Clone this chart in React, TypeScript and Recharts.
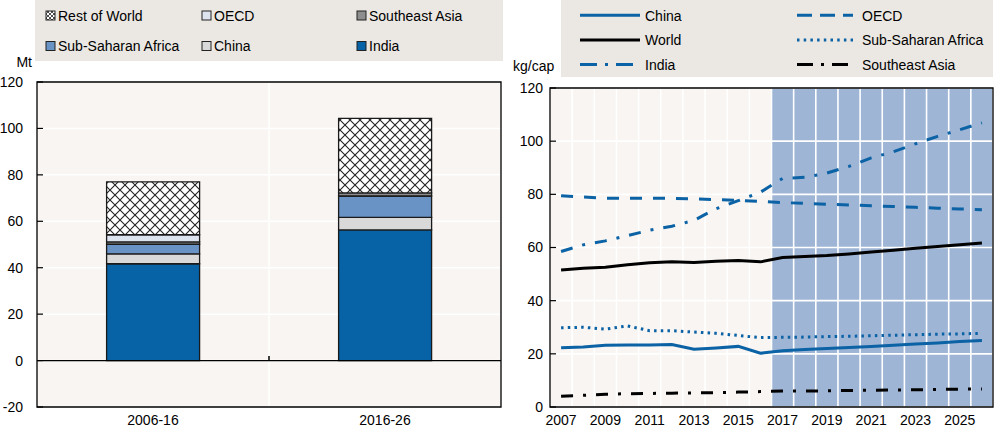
import React from 'react';
import {
  BarChart,
  Bar,
  XAxis,
  YAxis,
  CartesianGrid,
  ReferenceArea,
  ReferenceLine,
  LineChart,
  Line,
} from 'recharts';

// ---------- Left panel data (Mt) ----------
const periods = ['2006-16', '2016-26'];
const indiaMt = [41.7, 56.3];
const chinaMt = [4.3, 5.4];
const ssaMt = [4.1, 9.2];
const seaMt = [1.0, 1.3];
const oecdMt = [3.1, 0];
const rowMt = [22.8, 32.1];
const mtTicks = [-20, 0, 20, 40, 60, 80, 100, 120];

// ---------- Right panel data (kg/cap) ----------
const years = [2007, 2008, 2009, 2010, 2011, 2012, 2013, 2014, 2015, 2016, 2017, 2018, 2019, 2020, 2021, 2022, 2023, 2024, 2025, 2026];
const chinaKg = [22.3, 22.6, 23.2, 23.3, 23.3, 23.5, 21.7, 22.2, 22.8, 20.2, 21.2, 21.6, 22.0, 22.4, 22.8, 23.2, 23.7, 24.1, 24.6, 25.0];
const worldKg = [51.5, 52.2, 52.6, 53.5, 54.3, 54.6, 54.4, 54.8, 55.1, 54.6, 56.2, 56.6, 57.0, 57.6, 58.3, 59.0, 59.7, 60.4, 61.0, 61.7];
const oecdKg = [79.5, 79.0, 78.5, 78.5, 78.5, 78.5, 78.3, 78.0, 77.7, 77.3, 76.9, 76.6, 76.3, 76.0, 75.7, 75.4, 75.1, 74.8, 74.5, 74.2];
const indiaKg = [58.5, 61.0, 62.5, 64.5, 66.5, 68.0, 70.2, 74.6, 77.6, 80.8, 86.0, 86.4, 88.0, 90.5, 93.7, 96.0, 99.0, 101.8, 104.3, 106.9];
const ssaKg = [29.8, 30.0, 29.3, 30.5, 28.7, 28.7, 28.2, 27.7, 26.9, 26.1, 26.2, 26.3, 26.5, 26.6, 26.8, 27.0, 27.2, 27.4, 27.5, 27.7];
const seaKg = [4.0, 4.4, 4.8, 5.0, 5.1, 5.2, 5.3, 5.4, 5.6, 5.8, 6.0, 6.0, 6.1, 6.2, 6.3, 6.4, 6.5, 6.6, 6.7, 6.8];
const kgTicks = [0, 20, 40, 60, 80, 100, 120];
const yearLabels = [2007, 2009, 2011, 2013, 2015, 2017, 2019, 2021, 2023, 2025];
const yearBoundaries = [2006.5, 2007.5, 2008.5, 2009.5, 2010.5, 2011.5, 2012.5, 2013.5, 2014.5, 2015.5, 2016.5, 2017.5, 2018.5, 2019.5, 2020.5, 2021.5, 2022.5, 2023.5, 2024.5, 2025.5, 2026.5];
const projectionStart = 2016.5;

// legend labels
const leftLegendLabels = [
  ['Rest of World', 'OECD', 'Southeast Asia'],
  ['Sub-Saharan Africa', 'China', 'India'],
];
const rightLegendLabels = [
  ['China', 'OECD'],
  ['World', 'Sub-Saharan Africa'],
  ['India', 'Southeast Asia'],
];

// ---------- styles ----------
const CREAM = '#f8f5f2';
const LEGEND_BG = '#ebe8e3';
const SHADE = '#9fb5d6';
const BLUE = '#0b62a5';
const BLACK = '#000';
const FONT = '"Liberation Sans", Arial, Helvetica, sans-serif';

const barColors: Record<string, string> = {
  'Rest of World': 'url(#xhatch-leg)',
  OECD: '#dde3ef',
  'Southeast Asia': '#8e8e8e',
  'Sub-Saharan Africa': '#6a93c5',
  China: '#d9d9d9',
  India: '#0763a6',
};

const lineStyles: Record<string, { color: string; dash?: string; legendDash?: string }> = {
  China: { color: BLUE },
  World: { color: BLACK },
  India: { color: BLUE, dash: '12 10 3 10', legendDash: '17 8 3 8' },
  OECD: { color: BLUE, dash: '12 11', legendDash: '15 8' },
  'Sub-Saharan Africa': { color: BLUE, dash: '2.5 4.2', legendDash: '2.5 4.2' },
  'Southeast Asia': { color: BLACK, dash: '12 10 3 10', legendDash: '16 8 3 8' },
};

const barData = periods.map((p, i) => ({
  period: p,
  india: indiaMt[i],
  china: chinaMt[i],
  ssa: ssaMt[i],
  sea: seaMt[i],
  oecd: oecdMt[i],
  row: rowMt[i],
}));

const lineData = years.map((y, i) => ({
  year: y,
  china: chinaKg[i],
  world: worldKg[i],
  oecd: oecdKg[i],
  india: indiaKg[i],
  ssa: ssaKg[i],
  sea: seaKg[i],
}));

// stripe fill per year band: cream for history, blue for projections
const stripeFills = yearBoundaries.slice(0, -1).map((b) => (b >= projectionStart ? SHADE : CREAM));

// inward tick on the bottom axis (no label)
const BoundaryTick = (props: any) => {
  const { x, y } = props;
  return <line x1={x} x2={x} y1={y} y2={y - 6} stroke="#000" strokeWidth={1.2} />;
};

// y-axis tick with inward tick mark
const makeYTick = (gap: number) => (props: any) => {
  const { x, y, payload } = props;
  return (
    <g>
      <line x1={x} x2={x + 6} y1={y} y2={y} stroke="#000" strokeWidth={1.2} />
      <text x={x - gap} y={y} dy="0.355em" textAnchor="end" fontSize={14} fill="#000" fontFamily={FONT}>
        {payload.value}
      </text>
    </g>
  );
};
const LeftYTick = makeYTick(14);
const RightYTick = makeYTick(7);

const tickStyle = { fill: '#000', fontSize: 14, fontFamily: FONT };

function LeftLegend() {
  const colX = [46, 202, 357];
  const rowY = [15.5, 46];
  return (
    <svg width={1000} height={80} style={{ position: 'absolute', left: 0, top: 0, overflow: 'visible' }}>
      <defs>
        <pattern id="xhatch-leg" width={4} height={4} patternUnits="userSpaceOnUse">
          <rect width={4} height={4} fill="#fff" />
          <path d="M0,0 L4,4 M4,0 L0,4" stroke="#222" strokeWidth={0.8} />
        </pattern>
      </defs>
      <rect x={35} y={0} width={468} height={61} fill={LEGEND_BG} />
      {leftLegendLabels.map((row, r) =>
        row.map((label, c) => (
          <g key={label}>
            <rect x={colX[c]} y={rowY[r] - 4.5} width={9} height={9} fill={barColors[label]} stroke="#222" strokeWidth={1} />
            <text x={colX[c] + 12} y={rowY[r] + 5.2} fontSize={14} fill="#000" fontFamily={FONT}>
              {label}
            </text>
          </g>
        ))
      )}
      <text x={32} y={66.5} textAnchor="end" fontSize={14} fill="#000" fontFamily={FONT}>
        Mt
      </text>
    </svg>
  );
}

function RightLegend() {
  const lineX = [[580, 640], [797, 853]];
  const textX = [645, 862];
  const rowY = [15.3, 40, 64.5];
  return (
    <svg width={1000} height={80} style={{ position: 'absolute', left: 0, top: 0, overflow: 'visible' }}>
      <rect x={561} y={0} width={432} height={77} fill={LEGEND_BG} />
      {rightLegendLabels.map((row, r) =>
        row.map((label, c) => {
          const st = lineStyles[label];
          return (
            <g key={label}>
              <line
                x1={lineX[c][0]}
                x2={lineX[c][1]}
                y1={rowY[r]}
                y2={rowY[r]}
                stroke={st.color}
                strokeWidth={3}
                strokeDasharray={st.legendDash}
              />
              <text x={textX[c]} y={rowY[r] + 5.3} fontSize={14} fill="#000" fontFamily={FONT}>
                {label}
              </text>
            </g>
          );
        })
      )}
      <text x={513} y={71} fontSize={14} fill="#000" fontFamily={FONT}>
        kg/cap
      </text>
    </svg>
  );
}

export default function App() {
  return (
    <div style={{ position: 'absolute', left: 0, top: 0, width: 1000, height: 427, background: '#fff', fontFamily: FONT }}>
      <div style={{ position: 'absolute', left: 0, top: 0 }}>
        <BarChart width={505} height={427} data={barData} margin={{ top: 82, right: 4, bottom: 0, left: 0 }} barCategoryGap="30%">
          <defs>
            <pattern id="xhatch" width={10} height={10} patternUnits="userSpaceOnUse">
              <rect width={10} height={10} fill="#fff" />
              <path d="M0,0 L10,10 M10,0 L0,10" stroke="#222" strokeWidth={1.1} />
            </pattern>
          </defs>
          <CartesianGrid
            stroke="#fff"
            strokeWidth={1.5}
            fill={CREAM}
            fillOpacity={1}
            verticalCoordinatesGenerator={({ offset }: any) => [offset.left + offset.width / 2]}
          />
          <XAxis dataKey="period" axisLine={false} tickLine={false} tickSize={0} tickMargin={8} height={20} tick={tickStyle} interval={0} />
          <YAxis
            type="number"
            domain={[-20, 120]}
            ticks={mtTicks}
            width={37}
            axisLine={false}
            tickLine={false}
            tickSize={0}
            tickMargin={0}
            tick={<LeftYTick />}
            interval={0}
            allowDataOverflow
          />
          <ReferenceLine y={0} stroke="#000" strokeWidth={1.3} />
          <Bar dataKey="india" stackId="a" fill={barColors.India} stroke="#1a1a1a" strokeWidth={1.3} isAnimationActive={false} />
          <Bar dataKey="china" stackId="a" fill={barColors.China} stroke="#1a1a1a" strokeWidth={1.3} isAnimationActive={false} />
          <Bar dataKey="ssa" stackId="a" fill={barColors['Sub-Saharan Africa']} stroke="#1a1a1a" strokeWidth={1.3} isAnimationActive={false} />
          <Bar dataKey="sea" stackId="a" fill={barColors['Southeast Asia']} stroke="#1a1a1a" strokeWidth={1.3} isAnimationActive={false} />
          <Bar dataKey="oecd" stackId="a" fill={barColors.OECD} stroke="#1a1a1a" strokeWidth={1.3} isAnimationActive={false} />
          <Bar dataKey="row" stackId="a" fill="url(#xhatch)" stroke="#1a1a1a" strokeWidth={1.3} isAnimationActive={false} />
          <ReferenceLine
            segment={[{ x: periods[1], y: 0 }, { x: periods[1], y: 2 }]}
            position="start"
            stroke="#000"
            strokeWidth={1.5}
          />
          <ReferenceArea y1={-20} y2={120} fill="none" stroke="#000" strokeWidth={1.3} />
        </BarChart>
      </div>
      <div style={{ position: 'absolute', left: 500, top: 0 }}>
        <LineChart width={500} height={427} data={lineData} margin={{ top: 88, right: 7, bottom: 0, left: 0 }}>
          <CartesianGrid stroke="#fff" strokeWidth={1.6} fill={CREAM} fillOpacity={1} verticalFill={stripeFills} />
          <XAxis
            dataKey="year"
            type="number"
            domain={[2006.5, 2026.5]}
            ticks={yearBoundaries}
            tick={<BoundaryTick />}
            tickLine={false}
            axisLine={false}
            tickSize={0}
            tickMargin={0}
            height={0}
            interval={0}
            allowDataOverflow
          />
          <XAxis
            xAxisId="lbl"
            dataKey="year"
            type="number"
            domain={[2006.5, 2026.5]}
            ticks={yearLabels}
            tickLine={false}
            axisLine={false}
            tickSize={0}
            tickMargin={8}
            height={20}
            tick={tickStyle}
            interval={0}
            allowDataOverflow
          />
          <YAxis
            type="number"
            domain={[0, 120]}
            ticks={kgTicks}
            width={50}
            axisLine={false}
            tickLine={false}
            tickSize={0}
            tickMargin={0}
            tick={<RightYTick />}
            interval={0}
            allowDataOverflow
          />
          <Line dataKey="sea" stroke={lineStyles['Southeast Asia'].color} strokeWidth={3} strokeDasharray={lineStyles['Southeast Asia'].dash} dot={false} isAnimationActive={false} />
          <Line dataKey="ssa" stroke={lineStyles['Sub-Saharan Africa'].color} strokeWidth={3} strokeDasharray={lineStyles['Sub-Saharan Africa'].dash} dot={false} isAnimationActive={false} />
          <Line dataKey="india" stroke={lineStyles.India.color} strokeWidth={3} strokeDasharray={lineStyles.India.dash} dot={false} isAnimationActive={false} />
          <Line dataKey="oecd" stroke={lineStyles.OECD.color} strokeWidth={3} strokeDasharray={lineStyles.OECD.dash} dot={false} isAnimationActive={false} />
          <Line dataKey="world" stroke={lineStyles.World.color} strokeWidth={3} dot={false} isAnimationActive={false} />
          <Line dataKey="china" stroke={lineStyles.China.color} strokeWidth={3} dot={false} isAnimationActive={false} />
          <ReferenceArea x1={2006.5} x2={2026.5} y1={0} y2={120} fill="none" stroke="#000" strokeWidth={1.3} />
        </LineChart>
      </div>
      <LeftLegend />
      <RightLegend />
    </div>
  );
}
